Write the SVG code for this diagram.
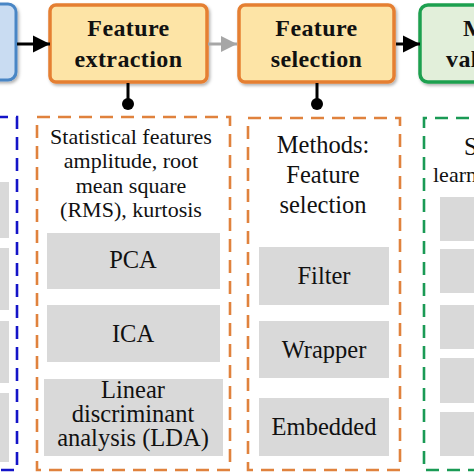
<svg xmlns="http://www.w3.org/2000/svg" width="474" height="474" viewBox="0 0 474 474">
<defs>
<style>
.hd{font-family:"Liberation Serif","Times New Roman",serif;font-weight:bold;font-size:24px;fill:#111;letter-spacing:0.4px}
.tx{font-family:"Liberation Serif","Times New Roman",serif;font-size:22px;fill:#111}
.tx2{font-family:"Liberation Serif","Times New Roman",serif;font-size:24.5px;fill:#111}
.gb{fill:#d9d9d9}
.dash{fill:none;stroke-width:2.6;stroke-dasharray:13 8}
</style>
<filter id="sh" x="-10%" y="-10%" width="130%" height="140%">
<feDropShadow dx="1.5" dy="2" stdDeviation="1.5" flood-color="#000" flood-opacity="0.3"/>
</filter>
<marker id="ab" viewBox="0 0 10 10" refX="10" refY="5" markerWidth="17" markerHeight="18" markerUnits="userSpaceOnUse" orient="auto"><path d="M0,0L10,5L0,10z" fill="#000"/></marker>
<marker id="ag" viewBox="0 0 10 10" refX="10" refY="5" markerWidth="16" markerHeight="16" markerUnits="userSpaceOnUse" orient="auto"><path d="M0,0L10,5L0,10z" fill="#a6a6a6"/></marker>
</defs>

<g id="acquisition">
<rect x="-20" y="4" width="36" height="76" rx="8" fill="#c9dcf2" stroke="#4a86c5" stroke-width="3" filter="url(#sh)"/>
</g>

<g id="feature-extraction">
<rect x="50" y="5" width="157" height="77" rx="6" fill="#fde4a6" stroke="#e57f32" stroke-width="3.5" filter="url(#sh)"/>
<text class="hd" x="128.5" y="36" text-anchor="middle">Feature</text>
<text class="hd" x="128.5" y="67" text-anchor="middle">extraction</text>
</g>

<g id="feature-selection">
<rect x="239" y="5" width="155" height="77" rx="6" fill="#fde4a6" stroke="#e57f32" stroke-width="3.5" filter="url(#sh)"/>
<text class="hd" x="316.5" y="36" text-anchor="middle">Feature</text>
<text class="hd" x="316.5" y="67" text-anchor="middle">selection</text>
</g>

<g id="model-validation">
<rect x="420" y="5" width="80" height="77" rx="8" fill="#e2efda" stroke="#1fa050" stroke-width="3.5" filter="url(#sh)"/>
<text class="hd" x="463" y="36">M</text>
<text class="hd" x="446" y="67">val</text>
</g>

<g id="connectors">
<line x1="17" y1="44" x2="50" y2="44" stroke="#000" stroke-width="3" marker-end="url(#ab)"/>
<line x1="208" y1="44" x2="237" y2="44" stroke="#a6a6a6" stroke-width="3" marker-end="url(#ag)"/>
<line x1="396" y1="44" x2="420" y2="44" stroke="#000" stroke-width="3" marker-end="url(#ab)"/>
<line x1="128" y1="83" x2="128" y2="103" stroke="#000" stroke-width="3"/>
<circle cx="128" cy="104" r="6" fill="#000"/>
<line x1="317" y1="83" x2="317" y2="103" stroke="#000" stroke-width="3"/>
<circle cx="317" cy="104" r="6" fill="#000"/>
</g>

<g id="acquisition-methods">
<path class="dash" d="M-5,117H17V470H-5" stroke="#1414c8"/>
<rect class="gb" x="0" y="182" width="9" height="56"/>
<rect class="gb" x="0" y="248" width="9" height="62"/>
<rect class="gb" x="0" y="321" width="9" height="62"/>
<rect class="gb" x="0" y="393" width="9" height="69"/>
</g>

<g id="extraction-methods">
<rect class="dash" x="37" y="117" width="193" height="353" stroke="#e0823d"/>
<text class="tx" x="131" y="144" text-anchor="middle">Statistical features</text>
<text class="tx" x="131" y="168" text-anchor="middle">amplitude, root</text>
<text class="tx" x="131" y="193" text-anchor="middle">mean square</text>
<text class="tx" x="131" y="217" text-anchor="middle">(RMS), kurtosis</text>
<rect class="gb" x="47" y="233" width="173" height="56"/>
<text class="tx2" x="133" y="268" text-anchor="middle">PCA</text>
<rect class="gb" x="47" y="305" width="173" height="57"/>
<text class="tx2" x="133" y="342" text-anchor="middle">ICA</text>
<rect class="gb" x="44" y="379" width="179" height="77"/>
<text class="tx2" x="133" y="398" text-anchor="middle">Linear</text>
<text class="tx2" x="133" y="422" text-anchor="middle">discriminant</text>
<text class="tx2" x="133" y="446" text-anchor="middle">analysis (LDA)</text>
</g>

<g id="selection-methods">
<rect class="dash" x="248" y="118" width="152" height="352" stroke="#e0823d"/>
<text class="tx2" x="323" y="153" text-anchor="middle">Methods:</text>
<text class="tx2" x="323" y="183" text-anchor="middle">Feature</text>
<text class="tx2" x="323" y="213" text-anchor="middle">selection</text>
<rect class="gb" x="259" y="247" width="130" height="58"/>
<text class="tx2" x="324" y="284" text-anchor="middle">Filter</text>
<rect class="gb" x="259" y="321" width="130" height="57"/>
<text class="tx2" x="324" y="358" text-anchor="middle">Wrapper</text>
<rect class="gb" x="259" y="398" width="130" height="58"/>
<text class="tx2" x="324" y="435" text-anchor="middle">Embedded</text>
</g>

<g id="validation-methods">
<path class="dash" d="M490,118H424V470H490" stroke="#1a9a55"/>
<text class="tx2" x="464" y="155">S</text>
<text class="tx" x="433" y="182">learn</text>
<rect class="gb" x="440" y="197" width="40" height="44"/>
<rect class="gb" x="440" y="249" width="40" height="44"/>
<rect class="gb" x="440" y="305" width="40" height="44"/>
<rect class="gb" x="440" y="358" width="40" height="45"/>
<rect class="gb" x="440" y="412" width="40" height="44"/>
</g>
</svg>
